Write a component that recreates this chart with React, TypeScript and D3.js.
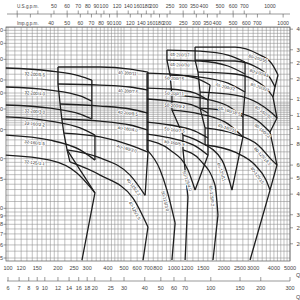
import React from "react";
import * as d3 from "d3";

// ---------- axis values ----------
const flowTicksLmin = [100, 120, 150, 200, 250, 300, 400, 500, 600, 700, 800, 1000, 1200, 1500, 2000, 2500, 3000, 4000, 5000];
const flowTicksM3h = [6, 7, 8, 9, 10, 12, 14, 16, 18, 20, 25, 30, 40, 50, 60, 70, 100, 150, 200, 300];
const usGpmTicks = [50, 60, 70, 80, 90, 100, 120, 140, 160, 180, 200, 250, 300, 350, 400, 500, 600, 700, 1000];
const usGpmMinor = [30, 40];
const impGpmTicks = [40, 50, 60, 70, 80, 90, 100, 120, 140, 160, 180, 200, 250, 300, 350, 400, 500, 600, 700, 1000];
const impGpmMinor = [25, 30];
const headTicks = [5, 6, 7, 8, 9, 10, 15, 20, 30, 40, 50, 60, 80, 100, 120];
const feetTicks = [20, 25, 30, 40, 50, 60, 80, 100, 120, 150, 200, 250, 300, 400];

// ---------- pump curves: [flow l/min, head m] ----------
const curveNames = [
  "32-200/5.5", "32-200/4.0", "32-200/3.0", "32-160/2.2", "32-160/1.5", "32-125/1.1",
  "40-200/11", "40-200/7.5", "40-200/5.5", "40-160/4.0", "40-160/3.0", "40-125/2.2", "40-125/1.5",
  "50-200/15", "50-200/11", "50-200/9.2", "50-160/7.5", "50-160/5.5", "50-125/4.0", "50-125/3.0",
  "65-200/37", "65-200/30", "65-200/22", "65-160/18.5", "65-160/15", "65-125/11", "65-125/9.2",
  "80-200/55", "80-200/45", "80-200/37", "80-160/30", "80-160/22", "80-125/18.5", "80-125/15",
];
const curvePoints: number[][][] = [
  [[97, 70.9], [179, 68], [272, 63.4], [320, 59.9]],
  [[97, 54.4], [179, 52.1], [272, 48], [320, 44.7]],
  [[97, 42.3], [179, 40.5], [272, 37.3], [320, 34.8]],
  [[97, 35.8], [179, 33.8], [272, 30.7], [334, 27.8]],
  [[97, 27.8], [179, 25.9], [272, 22.6], [334, 19.6]],
  [[97, 21.0], [179, 19.6], [260, 16.4], [312, 13.5], [334, 12.4]],

  [[200, 71.9], [359, 71.9], [544, 69.9], [697, 67]],
  [[200, 56.7], [359, 55.9], [544, 54.4], [697, 52.1]],
  [[206, 42.9], [359, 41.7], [544, 40.0], [697, 37.8]],
  [[211, 34.8], [359, 33.8], [544, 32.0], [697, 29.8]],
  [[217, 28.6], [359, 27.1], [544, 24.2], [697, 21.9]],
  [[227, 22.6], [359, 20.2], [544, 15.9], [670, 12.0]],
  [[236, 19.1], [359, 15.9], [566, 11.55], [697, 7.71]],

  [[688, 66.1], [947, 65.2], [1340, 61.7], [1650, 55.9]],
  [[688, 53.6], [947, 52.9], [1340, 50], [1603, 45.3]],
  [[688, 46.0], [947, 44.7], [1340, 41.7], [1603, 37.8]],
  [[688, 33.3], [947, 32.0], [1340, 29.4], [1603, 26.7]],
  [[688, 28.2], [947, 26.7], [1340, 23.9], [1603, 21.0]],
  [[688, 25.9], [947, 22.6], [1214, 17.1], [1340, 12.9]],
  [[688, 22.6], [825, 17.1], [907, 12.9], [1016, 8.15]],

  [[907, 91.1], [1436, 89.8], [2115, 85], [2680, 77.1]],
  [[907, 79.2], [1436, 78.2], [2115, 72.9], [2680, 65.2]],
  [[947, 64.3], [1436, 62.5], [2115, 57.4], [2680, 50.7]],
  [[972, 48.6], [1436, 46.7], [2115, 41.7], [2604, 35.8]],
  [[972, 39.4], [1436, 37.3], [2115, 32.5], [2604, 27.1]],
  [[1133, 27.8], [1436, 25.2], [1946, 19.6], [2235, 12.9]],
  [[1133, 22.6], [1436, 19.6], [1768, 13.8], [1841, 9.1]],

  [[1340, 95], [2333, 95], [3207, 86.2], [3891, 75], [4234, 64.3]],
  [[1340, 79.2], [2333, 78.2], [3207, 70.9], [3790, 61.7], [4062, 54.4]],
  [[1395, 67], [2333, 65.2], [3207, 58.3], [3684, 52.1], [3948, 47.3]],
  [[1436, 50.7], [2333, 48.6], [3207, 43.5], [3891, 37.8], [4174, 35.3]],
  [[1436, 40.5], [2333, 38.3], [3207, 33.8], [3580, 30.7], [3790, 29.0]],
  [[1539, 30.7], [2333, 28.2], [3207, 24.2], [3891, 19.6], [4174, 18.3]],
  [[1539, 24.2], [2333, 21.9], [3080, 18.3], [3580, 14.9], [3790, 12.9]],
];

// ---------- tile boundary lines: [flow l/min, head m] ----------
const boundaryLines: number[][][] = [
  [[320, 59.9], [320, 34.8]],
  [[334, 27.8], [334, 19.6]],
  [[227, 22.6], [334, 12.4], [279, 4.86]],
  [[200, 71.9], [200, 56.7], [206, 42.9], [211, 34.8], [217, 28.6], [227, 22.6], [236, 19.1]],
  [[697, 67], [697, 21.9], [670, 12.0]],
  [[697, 7.71], [651, 4.86]],
  [[688, 66.1], [688, 22.6]],
  [[1650, 55.9], [1603, 45.3], [1603, 21.0], [1340, 12.9]],
  [[1016, 8.15], [972, 4.86]],
  [[907, 91.1], [907, 79.2], [947, 64.3], [972, 48.6], [972, 39.4], [1133, 27.8]],
  [[1133, 27.8], [1133, 22.6], [1214, 11.7], [1167, 4.86]],
  [[2680, 77.1], [2680, 50.7], [2604, 35.8], [2604, 27.1], [2235, 12.9]],
  [[1841, 9.1], [1718, 4.86]],
  [[1340, 95], [1340, 79.2], [1395, 67], [1436, 50.7], [1436, 40.5], [1539, 30.7], [1539, 24.2]],
  [[4234, 64.3], [4062, 54.4], [3948, 47.3], [4174, 35.3], [3790, 29.0], [4174, 18.3], [3790, 12.9], [2873, 4.86]],
];

// label placement along each curve: [segment index, fraction]
const labelSeg = [
  [0, 0.43], [0, 0.43], [0, 0.43], [0, 0.43], [0, 0.43], [0, 0.43],
  [1, 0.6], [1, 0.6], [1, 0.6], [1, 0.6], [1, 0.6], [2, 0.05], [2, 0.05],
  [0, 0.78], [0, 0.78], [0, 0.78], [0, 0.78], [0, 0.78], [2, 0], [2, 0],
  [0, 0.1], [0, 0.1], [1, 0.6], [1, 0.7], [1, 0.7], [2, 0.05], [2, 0],
  [1, 0.65], [1, 0.7], [1, 0.75], [2, 0], [2, 0], [2, 0], [2, 0],
];

// ---------- layout ----------
const X0 = 6, X1 = 290, Y0 = 27, Y1 = 261;
const xS = d3.scaleLog().domain([100, 5000]).range([8, 290]);
const yS = d3.scaleLog().domain([5, 120]).range([258, 30.3]);

const gridQ = [
  ...d3.range(100, 200, 10), ...d3.range(200, 500, 20), ...d3.range(500, 1000, 50),
  ...d3.range(1000, 2000, 100), ...d3.range(2000, 5001, 200),
];
const gridH = [
  ...d3.range(5, 10, 0.5), ...d3.range(10, 20, 1), ...d3.range(20, 32, 2),
  ...d3.range(32, 45, 1), ...d3.range(46, 50, 2), ...d3.range(50, 126, 5),
];

const line = d3.line<number[]>().x((d) => xS(d[0])).y((d) => yS(d[1])).curve(d3.curveMonotoneX);
const polyline = d3.line<number[]>().x((d) => xS(d[0])).y((d) => yS(d[1]));

const FONT = "Liberation Sans, Arial, sans-serif";

export default function App() {
  const labels = curvePoints.map((pts, i) => {
    const s = Math.min(labelSeg[i][0], pts.length - 2);
    const t = labelSeg[i][1];
    const a = pts[s], b = pts[s + 1];
    const ax = xS(a[0]), ay = yS(a[1]), bx = xS(b[0]), by = yS(b[1]);
    const px = ax + (bx - ax) * t, py = ay + (by - ay) * t;
    const ang = Math.atan2(by - ay, bx - ax);
    const off = 5.8;
    const lx = px - Math.sin(ang) * off, ly = py + Math.cos(ang) * off;
    return { x: lx, y: ly, deg: (ang * 180) / Math.PI, name: curveNames[i] };
  });

  return (
    <svg width={300} height={300} style={{ position: "fixed", left: 0, top: 0, background: "#fff" }} fontFamily={FONT}>
      <rect x={0} y={0} width={300} height={300} fill="#fff" />
      {/* grid */}
      <g stroke="#8c8c8c" strokeWidth={0.55}>
        {gridQ.map((q, i) => (
          <line key={"gq" + i} x1={xS(q)} x2={xS(q)} y1={Y0} y2={Y1} />
        ))}
        {gridH.map((h, i) => (
          <line key={"gh" + i} x1={X0} x2={X1} y1={yS(h)} y2={yS(h)} />
        ))}
      </g>
      <rect x={X0} y={Y0} width={X1 - X0} height={Y1 - Y0} fill="none" stroke="#555" strokeWidth={0.7} />

      {/* pump curves */}
      <g fill="none" stroke="#1e1e1e" strokeWidth={1.3} strokeLinejoin="round">
        {curvePoints.map((pts, i) => (
          <path key={"c" + i} d={line(pts) || ""} />
        ))}
        {boundaryLines.map((pts, i) => (
          <path key={"b" + i} d={polyline(pts) || ""} />
        ))}
      </g>
      <g fontSize={4.3} fill="#333">
        {labels.map((l, i) => (
          <text key={"l" + i} transform={`translate(${l.x},${l.y}) rotate(${l.deg})`} stroke="#fff" strokeWidth={1.6} paintOrder="stroke">
            {l.name}
          </text>
        ))}
      </g>

      {/* left head axis */}
      <g fontSize={5.5} fill="#444">
        {headTicks.map((h) => (
          <g key={"h" + h}>
            <line x1={3.5} x2={X0} y1={yS(h)} y2={yS(h)} stroke="#555" strokeWidth={0.6} />
            <text x={3} y={yS(h) + 2} textAnchor="end">{h}</text>
          </g>
        ))}
      </g>
      {/* right feet axis */}
      <g fontSize={5.5} fill="#444">
        {feetTicks.map((f) => (
          <g key={"f" + f}>
            <line x1={X1} x2={X1 + 3} y1={yS(f * 0.3048)} y2={yS(f * 0.3048)} stroke="#555" strokeWidth={0.6} />
            <text x={X1 + 6.5} y={yS(f * 0.3048) + 2}>{f}</text>
          </g>
        ))}
      </g>

      {/* bottom l/min axis */}
      <g fontSize={5.5} fill="#444" textAnchor="middle">
        {flowTicksLmin.map((q) => (
          <text key={"q" + q} x={xS(q)} y={270}>{q}</text>
        ))}
      </g>
      <text x={296} y={277} fontSize={5.5} fill="#444">Q</text>

      {/* bottom m3/h axis */}
      <line x1={xS(6 / 0.06) - 1} x2={X1} y1={281} y2={281} stroke="#555" strokeWidth={0.6} />
      <g fontSize={5.5} fill="#444" textAnchor="middle">
        {flowTicksM3h.map((m) => (
          <g key={"m" + m}>
            <line x1={xS(m / 0.06)} x2={xS(m / 0.06)} y1={277} y2={281} stroke="#555" strokeWidth={0.6} />
            <text x={xS(m / 0.06)} y={290}>{m}</text>
          </g>
        ))}
      </g>
      <text x={296} y={299} fontSize={5.5} fill="#444">Q</text>

      {/* top gpm axes */}
      <line x1={7} x2={X1} y1={14} y2={14} stroke="#555" strokeWidth={0.6} />
      <text x={17} y={8} fontSize={4.6} fill="#444">U.S.g.p.m.</text>
      <text x={17} y={25} fontSize={4.6} fill="#444">Imp.g.p.m.</text>
      <g fontSize={5.2} fill="#444" textAnchor="middle">
        {usGpmTicks.map((g) => (
          <g key={"us" + g}>
            <line x1={xS(g * 3.785)} x2={xS(g * 3.785)} y1={10.5} y2={14} stroke="#555" strokeWidth={0.6} />
            <text x={xS(g * 3.785)} y={8}>{g}</text>
          </g>
        ))}
        {usGpmMinor.map((g) => (
          <line key={"usm" + g} x1={xS(g * 3.785)} x2={xS(g * 3.785)} y1={10.5} y2={14} stroke="#555" strokeWidth={0.6} />
        ))}
        {impGpmTicks.map((g) => (
          <g key={"imp" + g}>
            <line x1={xS(g * 4.546)} x2={xS(g * 4.546)} y1={14} y2={17.5} stroke="#555" strokeWidth={0.6} />
            <text x={xS(g * 4.546)} y={25}>{g}</text>
          </g>
        ))}
        {impGpmMinor.map((g) => (
          <line key={"impm" + g} x1={xS(g * 4.546)} x2={xS(g * 4.546)} y1={14} y2={17.5} stroke="#555" strokeWidth={0.6} />
        ))}
      </g>
    </svg>
  );
}
